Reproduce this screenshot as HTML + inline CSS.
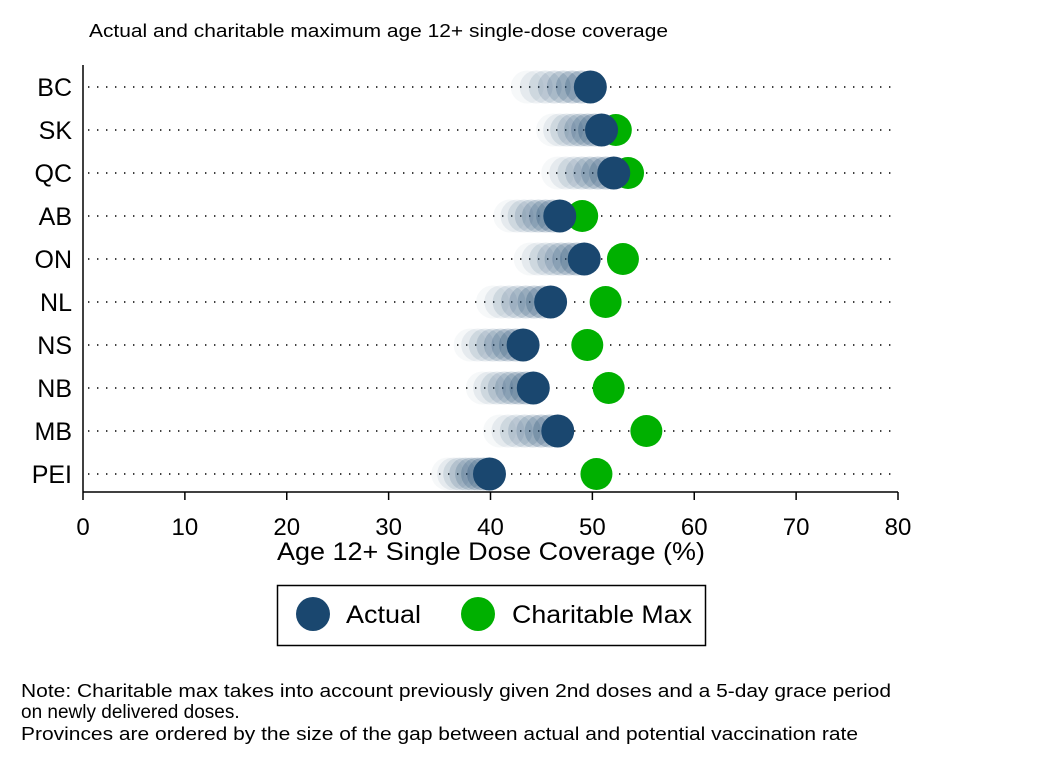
<!DOCTYPE html>
<html><head><meta charset="utf-8"><style>
body{margin:0;background:#fff;font-family:"Liberation Sans",Arial,sans-serif}
svg text{font-family:"Liberation Sans",Arial,sans-serif}
</style></head><body>
<svg id="chart" width="1051" height="765">
<text x="89" y="37" font-size="18" textLength="579" lengthAdjust="spacingAndGlyphs">Actual and charitable maximum age 12+ single-dose coverage</text>
<g id="grid"></g><g id="marks"></g><g id="axes"></g>
<text x="277" y="560" font-size="25" textLength="428" lengthAdjust="spacingAndGlyphs">Age 12+ Single Dose Coverage (%)</text>
<g>
<rect x="277.5" y="585.5" width="428" height="60" fill="none" stroke="#000" stroke-width="1.5"/>
<circle cx="313" cy="614" r="17" fill="#1a476f"/>
<text x="346" y="623" font-size="25" textLength="75" lengthAdjust="spacingAndGlyphs">Actual</text>
<circle cx="478" cy="614" r="17" fill="#00b000"/>
<text x="512" y="623" font-size="25" textLength="180" lengthAdjust="spacingAndGlyphs">Charitable Max</text>
</g>
<g font-size="18">
<text x="21" y="697" textLength="870" lengthAdjust="spacingAndGlyphs">Note: Charitable max takes into account previously given 2nd doses and a 5-day grace period</text>
<text x="21" y="718" font-size="19">on newly delivered doses.</text>
<text x="21" y="740" textLength="837" lengthAdjust="spacingAndGlyphs">Provinces are ordered by the size of the gap between actual and potential vaccination rate</text>
</g>
</svg>
<script>
const provinces=["BC","SK","QC","AB","ON","NL","NS","NB","MB","PEI"];
const actual=[49.8,50.9,52.1,46.8,49.2,45.9,43.2,44.2,46.6,39.9];
const charitable=[49.8,52.3,53.5,49.0,53.0,51.3,49.5,51.6,55.3,50.4];
const trailStart=[43.6,46.1,46.6,41.9,43.9,40.2,38.0,39.2,40.9,35.8];
const xTicks=[0,10,20,30,40,50,60,70,80];
const ns="http://www.w3.org/2000/svg";
const X0=83,X1=898,Y0=87,DY=43.0,AX=492;
const xs=v=>X0+(v-0)/(80-0)*(X1-X0);
const ys=i=>Y0+i*DY;
function mk(t,a,p){const e=document.createElementNS(ns,t);for(const k in a)e.setAttribute(k,a[k]);p.appendChild(e);return e;}
const grid=document.getElementById('grid'),marks=document.getElementById('marks'),axes=document.getElementById('axes');
provinces.forEach((p,i)=>{
 const y=ys(i);
 const l=mk('line',{x1:88,x2:X1,y1:y,y2:y,stroke:'#000','stroke-width':1.4,'stroke-dasharray':'1.4 7.6'},grid);
 
 
 const t=mk('text',{x:72,y:y+9,'font-size':25,'text-anchor':'end'},axes);t.textContent=p;
 
 
 const n=7;
 for(let k=0;k<n;k++){
  const v=trailStart[i]+(actual[i]-trailStart[i])*k/n;
  const c=mk('circle',{cx:xs(v),cy:y,r:16.5,fill:'#1a476f','fill-opacity':0.04+0.035*k},marks);
  
  
 }
 const g=mk('circle',{cx:xs(charitable[i]),cy:y,r:16,fill:'#00b000'},marks);
 
 
 const a=mk('circle',{cx:xs(actual[i]),cy:y,r:16.5,fill:'#1a476f'},marks);
 
 
});
const ya=mk('line',{x1:X0,x2:X0,y1:65,y2:AX,stroke:'#000','stroke-width':1.5},axes);


const xa=mk('line',{x1:X0,x2:X1,y1:AX,y2:AX,stroke:'#000','stroke-width':1.5},axes);


xTicks.forEach(v=>{
 const tk=mk('line',{x1:xs(v),x2:xs(v),y1:AX,y2:AX+8,stroke:'#000','stroke-width':1.5},axes);
 
 
 const t=mk('text',{x:xs(v),y:535,'font-size':24,'text-anchor':'middle'},axes);t.textContent=v;
 
 
});
</script>
</body></html>
